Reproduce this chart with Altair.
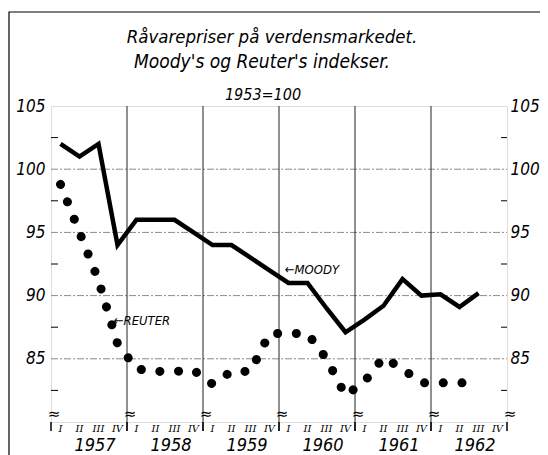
import altair as alt
import pandas as pd

# ---- data (quarterly, 1957 Q1 .. 1962 Q3) ----
years = ["1957", "1958", "1959", "1960", "1961", "1962"]
quarter_names = ["I", "II", "III", "IV"]
moody = [102, 101, 102, 94, 96, 96, 96, 95, 94, 94, 93, 92,
         91, 91, 89, 87.1, 88.1, 89.2, 91.3, 90, 90.1, 89.1, 90.2]
reuter = [98.8, 95.0, 91.2, 86.2, 84.2, 84.0, 84.0, 84.1, 83.0, 84.0, 84.0, 87.0,
          87.0, 87.0, 85.0, 82.1, 83.2, 85.1, 84.2, 83.1, 83.1, 83.1, 83.1]
y_labels = [85, 90, 95, 100, 105]
grid_values = [85, 90, 95, 100]
minor_values = [82.5, 87.5, 92.5, 97.5, 102.5]
title_lines = ["Råvarepriser på verdensmarkedet.", "Moody's og Reuter's indekser.", "1953=100"]

W, H = 456, 316
FONT = "Liberation Sans Narrow, DejaVu Sans Condensed, Liberation Sans"

df = pd.DataFrame({"t": [i + 0.5 for i in range(len(moody))],
                   "moody": moody, "reuter": reuter})
qdf = pd.DataFrame({"t": [i + 0.5 for i in range(24)],
                    "q": [quarter_names[i % 4] for i in range(24)]})
ydf = pd.DataFrame({"t": [4 * k + 2 for k in range(len(years))], "year": years})
bounds = pd.DataFrame({"t": [4 * k for k in range(len(years) + 1)]})
inner_bounds = pd.DataFrame({"t": [4 * k for k in range(1, len(years))]})
hg = pd.DataFrame({"v": grid_values})
minor = pd.DataFrame({"v": minor_values})
ylab = pd.DataFrame({"v": y_labels})
one = pd.DataFrame({"a": [0]})

xs = alt.Scale(domain=[0, 24], nice=False, zero=False)
ys = alt.Scale(domain=[80, 105], nice=False, zero=False)

def X(f):
    return alt.X(f, scale=xs, axis=None)

def Y(f):
    return alt.Y(f, scale=ys, axis=None)

axis_label_style = dict(ticks=False, domain=False, grid=False, labelFontSize=17, labelFont=FONT,
                        labelFontStyle="italic", labelColor="black", title=None)

left_axis = alt.Chart(ylab).mark_point(opacity=0).encode(
    x=alt.X("t:Q", scale=xs, axis=alt.Axis(values=list(range(25)), tickSize=5, labels=False,
                                            domain=False, grid=False, tickColor="black",
                                            tickWidth=1, title=None)),
    y=alt.Y("v:Q", scale=ys, axis=alt.Axis(values=y_labels, labelPadding=6, orient="left",
                                            **axis_label_style)),
).transform_calculate(t="0")

right_axis = alt.Chart(ylab).mark_point(opacity=0).encode(
    x=X("t:Q"),
    y=alt.Y("v:Q", scale=ys, axis=alt.Axis(values=y_labels, labelPadding=3, orient="right",
                                            **axis_label_style)),
).transform_calculate(t="0")

hgrid = alt.Chart(hg).mark_rule(color="#8a8a8a", strokeWidth=1, strokeDash=[7, 2, 2, 2]).encode(
    y=Y("v:Q"), x=alt.value(0), x2=alt.value(W))

vgrid = alt.Chart(inner_bounds).mark_rule(color="#222222", strokeWidth=1).encode(
    x=X("t:Q"), y=alt.value(0), y2=alt.value(H + 9))

edges = alt.Chart(bounds).mark_rule(color="black", strokeWidth=1.5).encode(
    x=X("t:Q"), y=alt.value(H), y2=alt.value(H + 9))

minor_left = alt.Chart(minor).mark_rule(color="black", strokeWidth=1).encode(
    y=Y("v:Q"), x=alt.value(0), x2=alt.value(7))
minor_right = alt.Chart(minor).mark_rule(color="black", strokeWidth=1).encode(
    y=Y("v:Q"), x=alt.value(W - 6), x2=alt.value(W))

breaks = alt.Chart(bounds).mark_text(text="≈", fontSize=15, color="black", dx=3, dy=-8,
                                     font="DejaVu Sans").encode(
    x=X("t:Q"), y=alt.value(H))

qlabels = alt.Chart(qdf).mark_text(font="DejaVu Serif", fontStyle="italic", fontSize=10,
                                   color="black", baseline="middle").encode(
    x=X("t:Q"), y=alt.value(H + 7), text="q:N")

ylabels = alt.Chart(ydf).mark_text(font=FONT, fontStyle="italic", fontSize=18, color="black",
                                   baseline="alphabetic", dx=6).encode(
    x=X("t:Q"), y=alt.value(H + 29), text="year:N")

moody_line = alt.Chart(df).mark_line(color="black", strokeWidth=4.5, strokeJoin="miter").encode(
    x=X("t:Q"), y=Y("moody:Q"))

reuter_line = alt.Chart(df).mark_line(color="black", strokeWidth=9, strokeCap="round",
                                      strokeDash=[0.1, 18.6]).encode(
    x=X("t:Q"), y=Y("reuter:Q"))

ann = pd.DataFrame({"t": [12.3, 3.3], "v": [92.0, 88.0], "label": ["←MOODY", "←REUTER"]})
annotations = alt.Chart(ann).mark_text(font=FONT, fontStyle="italic", fontSize=13, color="black",
                                       align="left", baseline="middle").encode(
    x=X("t:Q"), y=Y("v:Q"), text="label:N")

frame = alt.Chart(one).mark_rect(filled=False, stroke="black", strokeWidth=1.2).encode(
    x=alt.value(-42), x2=alt.value(500), y=alt.value(-94), y2=alt.value(H + 45))

title1 = alt.Chart(one).mark_text(text=title_lines[0], font=FONT, fontStyle="italic", fontSize=18.5,
                                  color="black", baseline="alphabetic").encode(
    x=alt.value(221), y=alt.value(-63))
title2 = alt.Chart(one).mark_text(text=title_lines[1], font=FONT, fontStyle="italic", fontSize=19,
                                  color="black", baseline="alphabetic").encode(
    x=alt.value(211), y=alt.value(-38))
title3 = alt.Chart(one).mark_text(text=title_lines[2], font=FONT, fontStyle="italic", fontSize=16,
                                  color="black", baseline="alphabetic").encode(
    x=alt.value(212), y=alt.value(-6))

chart = alt.layer(
    frame, title1, title2, title3, hgrid, vgrid, edges, minor_left, minor_right, breaks,
    qlabels, ylabels, moody_line, reuter_line, annotations, left_axis, right_axis,
).resolve_scale(y="shared").resolve_axis(y="independent").properties(
    width=W, height=H,
    autosize=alt.AutoSizeParams(type="none"),
    padding={"left": 43, "top": 98, "right": 33, "bottom": 33},
).configure_view(stroke="black", strokeWidth=1.5).configure(background="white")

chart.save("out.html", embed_options={"renderer": "svg", "actions": False})
